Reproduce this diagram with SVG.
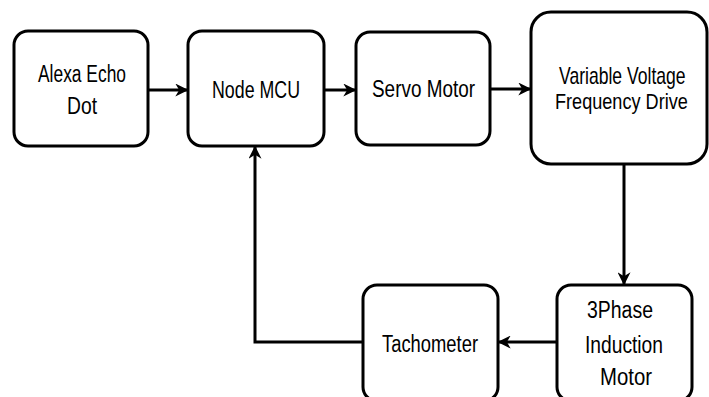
<svg xmlns="http://www.w3.org/2000/svg" width="709" height="397" viewBox="0 0 709 397">
<style>
.box{fill:#fff;stroke:#000;stroke-width:3}
.t{font-family:"Liberation Sans",Arial,sans-serif;font-size:23px;fill:#000}
.c{fill:none;stroke:#000;stroke-width:3}
</style>
<defs>
<marker id="ah" viewBox="0 0 10 10" refX="9" refY="5" markerWidth="13" markerHeight="13" markerUnits="userSpaceOnUse" orient="auto">
<path d="M0,0 L10,5 L0,10 L3,5 z" fill="#000"/>
</marker>
</defs>
<rect width="709" height="397" fill="#fff"/>
<g id="connectors">
<line class="c" x1="148" y1="90" x2="187" y2="90" marker-end="url(#ah)"/>
<line class="c" x1="324" y1="90" x2="355" y2="90" marker-end="url(#ah)"/>
<line class="c" x1="490" y1="89" x2="530" y2="89" marker-end="url(#ah)"/>
<line class="c" x1="624" y1="164" x2="624" y2="284" marker-end="url(#ah)"/>
<line class="c" x1="557" y1="342" x2="499" y2="342" marker-end="url(#ah)"/>
<polyline class="c" points="363,342 255,342 255,147" marker-end="url(#ah)"/>
</g>
<g id="alexa">
<rect class="box" x="14" y="31" width="134" height="115" rx="14"/>
<text class="t" x="38" y="82" textLength="88" lengthAdjust="spacingAndGlyphs">Alexa Echo</text>
<text class="t" x="67" y="114" textLength="30" lengthAdjust="spacingAndGlyphs">Dot</text>
</g>
<g id="nodemcu">
<rect class="box" x="188" y="31" width="136" height="115" rx="14"/>
<text class="t" x="212" y="98" textLength="88" lengthAdjust="spacingAndGlyphs">Node MCU</text>
</g>
<g id="servo">
<rect class="box" x="356" y="32" width="134" height="113" rx="14"/>
<text class="t" x="372" y="97" textLength="103" lengthAdjust="spacingAndGlyphs">Servo Motor</text>
</g>
<g id="vvfd">
<rect class="box" x="531" y="12" width="176" height="152" rx="20"/>
<text class="t" transform="translate(559,84) scale(0.764,1)">Variable Voltage</text>
<text class="t" transform="translate(555,109) scale(0.788,1)">Frequency Drive</text>
</g>
<g id="induction">
<rect class="box" x="557" y="285" width="135" height="116" rx="14"/>
<text class="t" x="587" y="318" textLength="66" lengthAdjust="spacingAndGlyphs">3Phase</text>
<text class="t" x="585" y="353" textLength="78" lengthAdjust="spacingAndGlyphs">Induction</text>
<text class="t" x="600" y="385" textLength="52" lengthAdjust="spacingAndGlyphs">Motor</text>
</g>
<g id="tachometer">
<rect class="box" x="363" y="285" width="135" height="116" rx="14"/>
<text class="t" x="382" y="352" textLength="96" lengthAdjust="spacingAndGlyphs">Tachometer</text>
</g>
</svg>
